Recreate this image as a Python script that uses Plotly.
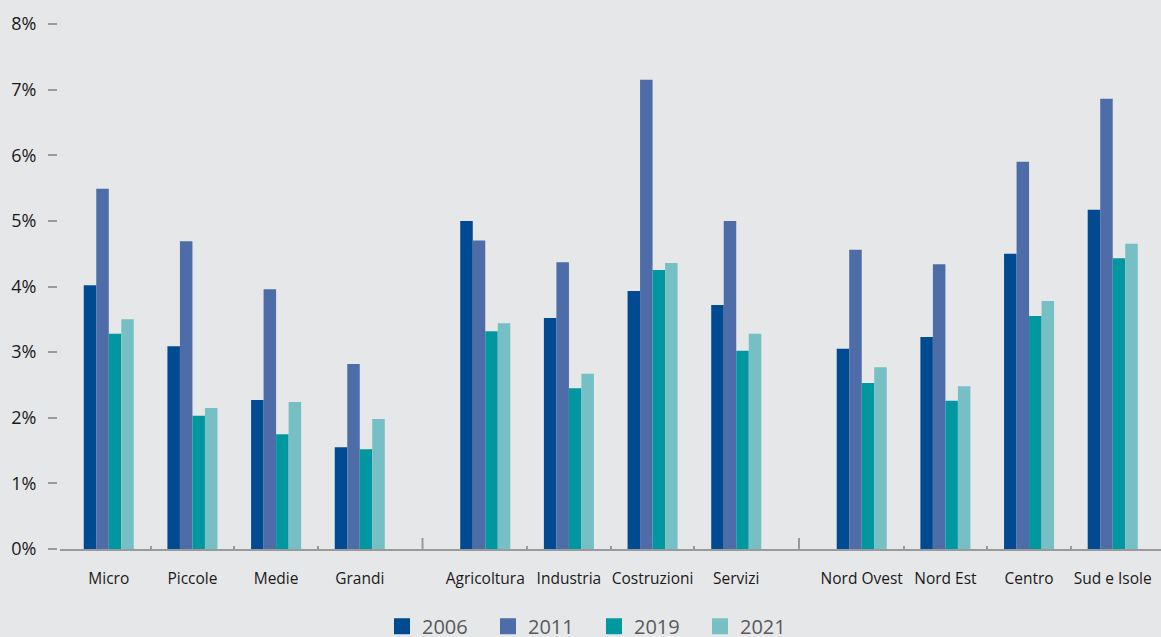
import plotly.graph_objects as go

groups = [
    ["Micro", "Piccole", "Medie", "Grandi"],
    ["Agricoltura", "Industria", "Costruzioni", "Servizi"],
    ["Nord Ovest", "Nord Est", "Centro", "Sud e Isole"],
]
years = ["2006", "2011", "2019", "2021"]

v2006 = [4.02, 3.09, 2.27, 1.55, 5.00, 3.52, 3.93, 3.72, 3.05, 3.23, 4.50, 5.17]
v2011 = [5.49, 4.69, 3.96, 2.82, 4.70, 4.37, 7.15, 5.00, 4.56, 4.34, 5.90, 6.86]
v2019 = [3.28, 2.03, 1.75, 1.52, 3.32, 2.45, 4.25, 3.02, 2.53, 2.26, 3.55, 4.43]
v2021 = [3.50, 2.15, 2.24, 1.98, 3.44, 2.67, 4.36, 3.28, 2.77, 2.48, 3.78, 4.65]

y_ticks = [0, 1, 2, 3, 4, 5, 6, 7, 8]
y_ticktext = ["0%", "1%", "2%", "3%", "4%", "5%", "6%", "7%", "8%"]

colors = ["#004a91", "#4e6ca8", "#0097a0", "#76bfc4"]
series = [v2006, v2011, v2019, v2021]

# positions: categories 1 apart, extra half slot between groups
categories, pos, minor_sep, major_sep = [], [], [], []
p = 0.0
for gi, g in enumerate(groups):
    if gi > 0:
        major_sep.append(p - 1 + 0.75)
        p += 0.5
    for ci, c in enumerate(g):
        categories.append(c)
        pos.append(p)
        if ci < len(g) - 1:
            minor_sep.append(p + 0.5)
        p += 1

fig = go.Figure()
for name, vals, col in zip(years, series, colors):
    fig.add_trace(go.Bar(x=pos, y=vals, name=name, marker=dict(color=col, line=dict(width=0)),
                         showlegend=False))
for name, col in zip(years, colors):
    fig.add_trace(go.Scatter(x=[None], y=[None], mode="markers", name=name,
                             marker=dict(symbol="square", size=16, color=col)))

for s in major_sep:
    fig.add_shape(type="line", xref="x", yref="paper", x0=s, x1=s, y0=0, y1=11 / 525,
                  line=dict(color="#9a9a9a", width=2))

fig.update_layout(
    width=1161, height=637,
    margin=dict(l=57, r=0, t=24, b=88, autoexpand=False),
    paper_bgcolor="#e6e7e9", plot_bgcolor="#e6e7e9",
    font=dict(family="Open Sans", color="#1a1a1a"),
    barmode="group", bargap=0.402, bargroupgap=0,
    legend=dict(orientation="h", x=0.4864, xanchor="center", y=-0.147, yanchor="middle",
                font=dict(size=20, color="#5a5a5a"), bgcolor="rgba(0,0,0,0)",
                entrywidth=61, entrywidthmode="pixels",
                itemclick=False, traceorder="normal"),
    xaxis=dict(domain=[3 / 1104, 1], range=[-0.583, 12.577],
               tickvals=pos, ticktext=categories, ticks="",
               tickfont=dict(size=15.5, color="#1a1a1a"), ticklabelstandoff=14,
               showline=True, linecolor="#9a9a9a", linewidth=2,
               showgrid=False, zeroline=False,
               minor=dict(tickmode="array", tickvals=minor_sep, ticks="inside",
                          ticklen=3, tickwidth=2, tickcolor="#9a9a9a", showgrid=False)),
    yaxis=dict(range=[0, 8], tickvals=y_ticks, ticktext=y_ticktext, anchor="free", position=0,
               ticks="outside", ticklen=9, tickwidth=2, tickcolor="#9a9a9a",
               tickfont=dict(size=18, color="#1a1a1a"), ticklabelstandoff=8,
               showline=False, showgrid=False, zeroline=False),
)

fig.write_html("out.html")
